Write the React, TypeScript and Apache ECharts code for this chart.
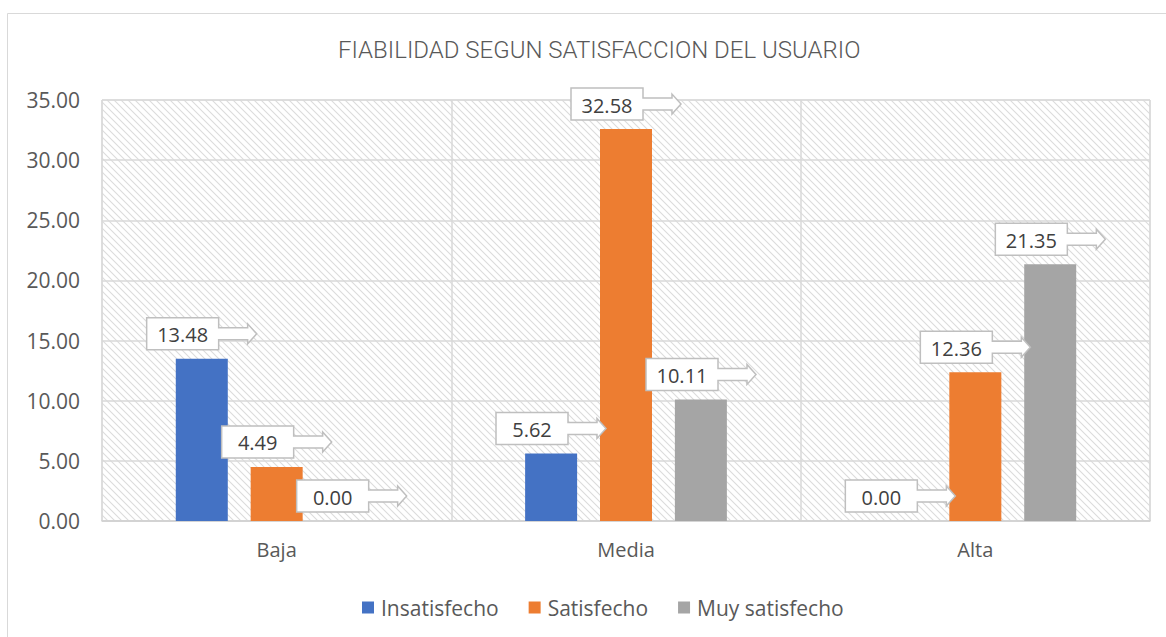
import React, { useEffect, useRef } from "react";
import * as echarts from "echarts";

const categories = ["Baja", "Media", "Alta"];
const seriesNames = ["Insatisfecho", "Satisfecho", "Muy satisfecho"];
const insatisfecho = [13.48, 5.62, 0.0];
const satisfecho = [4.49, 32.58, 12.36];
const muySatisfecho = [0.0, 10.11, 21.35];
const yTicks = { min: 0, max: 35, interval: 5 };

const colors = ["#4472C4", "#ED7D31", "#A5A5A5"];
const FONT = "'Open Sans', 'Noto Sans', sans-serif";

function makeHatch() {
  const s = 7;
  const c = document.createElement("canvas");
  c.width = s;
  c.height = s;
  const ctx = c.getContext("2d")!;
  ctx.fillStyle = "#ffffff";
  ctx.fillRect(0, 0, s, s);
  ctx.strokeStyle = "#dcdcdc";
  ctx.lineWidth = 1.1;
  ctx.beginPath();
  ctx.moveTo(-1, -1);
  ctx.lineTo(s + 1, s + 1);
  ctx.moveTo(-1, s - 1);
  ctx.lineTo(1, s + 1);
  ctx.moveTo(s - 1, -1);
  ctx.lineTo(s + 1, 1);
  ctx.stroke();
  return c.toDataURL();
}

export default function App() {
  const ref = useRef<HTMLDivElement>(null);
  useEffect(() => {
    if (!ref.current) return;
    const chart = echarts.init(ref.current, null, { renderer: "svg" });
    const all = [insatisfecho, satisfecho, muySatisfecho];
    const BAR_W = 52;
    const STEP = 75;

    const bars = all.map((vals, i) => ({
      type: "bar",
      name: seriesNames[i],
      data: vals,
      barWidth: BAR_W,
      barGap: "44%",
      itemStyle: { color: colors[i] },
      z: 2,
    }));

    const labels = all.map((vals, i) => ({
      type: "custom",
      name: "lbl" + i,
      data: vals.map((v, k) => [k, v]),
      z: 5,
      silent: true,
      renderItem: (params: any, api: any) => {
        const cat = api.value(0);
        const v = api.value(1);
        const pt = api.coord([cat, v]);
        const cx = pt[0] + (i - 1) * STEP;
        const by = pt[1] - 9;
        const W = 110;
        const BW = 72;
        const H = 32;
        const x0 = cx - W / 2;
        const x1 = x0 + BW;
        const top = by - H;
        const mid = by - H / 2;
        const hs = x0 + 101;
        const points = [
          [x0, top],
          [x1, top],
          [x1, mid - 6],
          [hs, mid - 6],
          [hs, mid - 10],
          [x0 + W, mid],
          [hs, mid + 10],
          [hs, mid + 6],
          [x1, mid + 6],
          [x1, by],
          [x0, by],
        ];
        return {
          type: "group",
          children: [
            {
              type: "polygon",
              shape: { points },
              style: { fill: "#ffffff", stroke: "#bfbfbf", lineWidth: 1.5 },
            },
            {
              type: "text",
              x: x0 + BW / 2,
              y: mid + 1,
              style: {
                text: Number(v).toFixed(2),
                fill: "#404040",
                font: "20px " + FONT,
                align: "center",
                verticalAlign: "middle",
              },
            },
          ],
        };
      },
    }));

    chart.setOption({
      animation: false,
      title: {
        text: "FIABILIDAD SEGUN SATISFACCION DEL USUARIO",
        left: 333,
        top: 33,
        textStyle: {
          color: "#595959",
          fontWeight: 300,
          fontSize: 24,
          fontFamily: "Roboto, sans-serif",
        },
      },
      graphic: [
        {
          type: "rect",
          shape: { x: 7.5, y: 13.5, width: 1170, height: 700 },
          style: { fill: "none", stroke: "#d9d9d9", lineWidth: 1 },
          silent: true,
        },
      ],
      legend: {
        data: seriesNames,
        top: 592,
        left: 357,
        itemWidth: 12,
        itemHeight: 12,
        itemGap: 30,
        icon: "rect",
        textStyle: { color: "#595959", fontSize: 21, fontFamily: FONT, padding: [0, 0, 0, 2] },
      },
      grid: {
        left: 102,
        right: 16,
        top: 100,
        bottom: 116,
        show: true,
        borderColor: "#d9d9d9",
        borderWidth: 1,
        backgroundColor: {
          image: makeHatch(),
          repeat: "repeat",
          imageWidth: 7,
          imageHeight: 7,
        } as any,
      },
      xAxis: {
        type: "category",
        data: categories,
        axisLine: { lineStyle: { color: "#d0d0d0", width: 1.5 } },
        axisTick: { show: false },
        splitLine: { show: true, lineStyle: { color: "#d9d9d9", width: 1.5 } },
        axisLabel: { color: "#595959", fontSize: 20, fontFamily: FONT, margin: 18 },
      },
      yAxis: {
        type: "value",
        min: yTicks.min,
        max: yTicks.max,
        interval: yTicks.interval,
        axisLine: { show: false },
        axisTick: { show: false },
        splitLine: { lineStyle: { color: "#d9d9d9", width: 1.5 } },
        axisLabel: {
          color: "#595959",
          fontSize: 21,
          fontFamily: FONT,
          margin: 22,
          formatter: (v: number) => v.toFixed(2),
        },
      },
      series: [...bars, ...labels],
    });
    return () => chart.dispose();
  }, []);
  return (
    <div
      ref={ref}
      style={{ position: "fixed", left: 0, top: 0, width: 1166, height: 637, background: "#fff" }}
    />
  );
}
